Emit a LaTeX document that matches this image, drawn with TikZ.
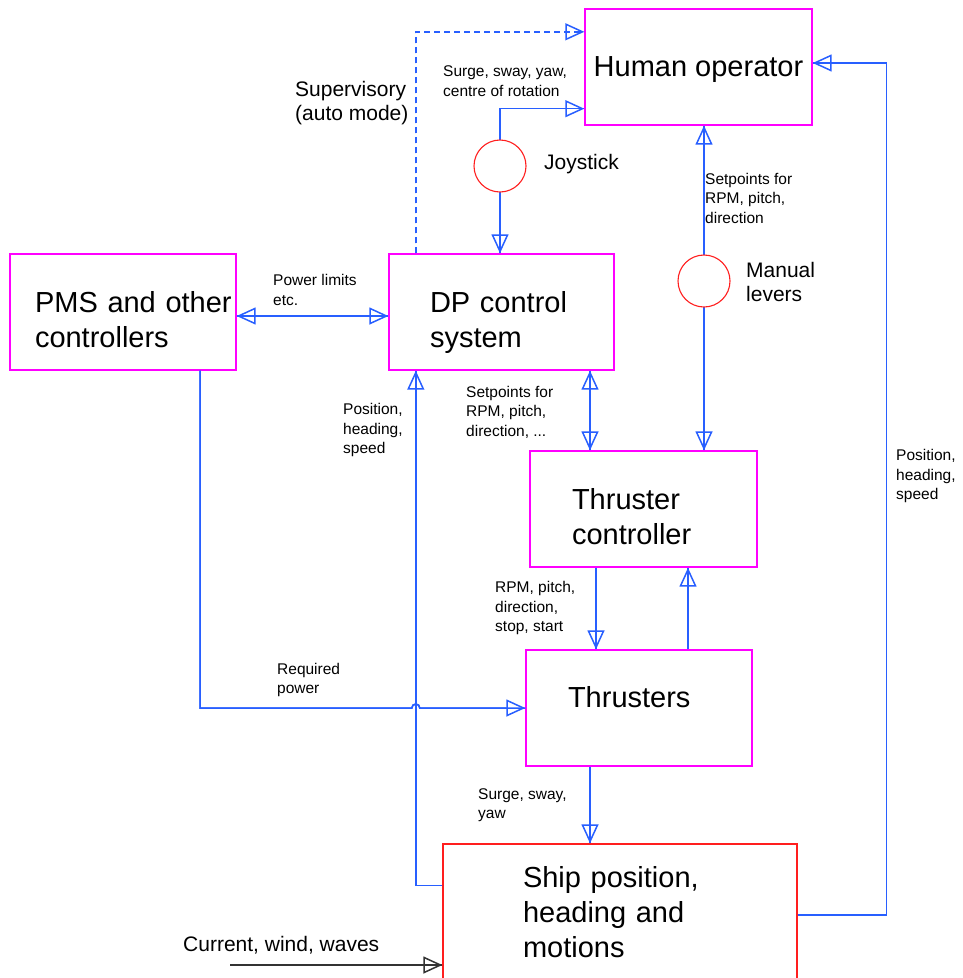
\documentclass[tikz,border=0pt]{standalone}
\usepackage{fontspec}
\setmainfont{Liberation Sans}
\usetikzlibrary{arrows.meta}
\definecolor{boxmagenta}{RGB}{255,0,255}
\definecolor{linkblue}{RGB}{40,95,255}
\definecolor{shipred}{RGB}{255,30,30}
\begin{document}
\begin{tikzpicture}[x=1pt,y=-1pt,
  box/.style={draw=boxmagenta, line width=1.4pt, minimum width=227pt, minimum height=116pt, inner sep=0pt, align=left, font=\fontsize{29}{35}\selectfont},
  twoline/.style={text height=20pt, text depth=20pt},
  shipbox/.style={box, draw=shipred, minimum width=354pt, minimum height=136pt},
  knob/.style={circle, draw=shipred, fill=white, line width=1.1pt, minimum size=52pt, inner sep=0pt},
  flow/.style={draw=linkblue, line width=1.5pt, -{Triangle[open,length=19pt,width=17pt]}, postaction={draw=linkblue, arrows=-}},
  dflow/.style={flow, {Triangle[open,length=19pt,width=17pt]}-{Triangle[open,length=19pt,width=17pt]}},
  envflow/.style={flow, draw=black!80, postaction={draw=black!80, arrows=-}},
  lbl/.style={inner sep=0pt, anchor=west, align=left, font=\fontsize{15.5}{19.5}\selectfont},
  lblmid/.style={lbl, font=\fontsize{21}{24}\selectfont}]
\path[use as bounding box, fill=white] (0,0) rectangle (963,978);

\node[box, text height=22pt, text depth=3pt] (human) at (698.5,67) {Human operator};
\node[box, twoline, minimum width=226pt, text width=176pt] (pms) at (123,312) {\mbox{PMS and other}\\controllers};
\node[box, twoline, minimum width=225pt, text width=143pt] (dp) at (501.5,312) {DP control\\system};
\node[box, twoline, text width=143pt] (tc) at (643.5,509) {Thruster\\controller};
\node[box, minimum width=226pt, text width=142pt, text depth=22pt] (thr) at (639,708) {Thrusters};
\node[shipbox, text width=194pt] (ship) at (620,912) {Ship position,\\heading and\\motions};

\coordinate (fb) at ([xshift=27.5pt]dp.south west);
\coordinate (env) at (230,965);

% links from and to the human operator
\draw[flow, dash pattern=on 6pt off 4pt] ([xshift=27.5pt]dp.north west) |- ([yshift=-23.5pt]human.north west);
\draw[dflow] (dp.north -| 500,0) |- ([yshift=17pt]human.south west);
\draw[dflow] (human.south -| 704,0) -- (tc.north -| 704,0);
\node[knob] (joy) at (500,166) {};
\node[knob] (lev) at (704,281) {};

\draw[dflow] ([yshift=-4pt]pms.east) -- ([yshift=-4pt]dp.west);
\draw[dflow] ([xshift=88.5pt]dp.south) -- ([xshift=88.5pt]dp.south |- tc.north);
\draw[flow] ([yshift=-42pt]ship.north west) -| (fb);
\draw[flow] ([xshift=77pt]pms.south) |- ([xshift=-4pt]fb |- thr.west) arc[start angle=180, end angle=360, radius=4] -- (thr.west);
\draw[flow] ([xshift=-47.5pt]tc.south) -- ([xshift=-47.5pt]tc.south |- thr.north);
\draw[flow] ([xshift=49pt]thr.north) -- ([xshift=49pt]thr.north |- tc.south);
\draw[flow] ([xshift=-49pt]thr.south) -- ([xshift=-49pt]thr.south |- ship.north);
\draw[flow] ([yshift=-3pt]ship.east) -- ++(89,0) |- ([yshift=4pt]human.east);
\draw[envflow] (env) -- (env -| ship.west);

% labels
\node[lblmid] (sup) at (295,103) {Supervisory\\(auto mode)};
\node[lbl] (surge) at (443,81) {Surge, sway, yaw,\\centre of rotation};
\node[lblmid] (joyl) at (544,164) {Joystick};
\node[lbl] (setlev) at (705,198) {Setpoints for\\RPM, pitch,\\direction};
\node[lblmid] (levl) at (746,282) {Manual\\levers};
\node[lbl] (plim) at (273,290) {Power limits\\etc.};
\node[lbl] (posl) at (343,430) {Position,\\heading,\\speed};
\node[lbl] (setdp) at (466,412) {Setpoints for\\RPM, pitch,\\direction, ...};
\node[lbl] (rpm) at (495,608) {RPM, pitch,\\direction,\\stop, start};
\node[lbl] (reqp) at (277,680) {Required\\power};
\node[lbl] (ssy) at (478,805) {Surge, sway,\\yaw};
\node[lbl] (posr) at (896,476) {Position,\\heading,\\speed};
\node[lblmid] (envl) at (183,945) {Current, wind, waves};
\end{tikzpicture}
\end{document}
